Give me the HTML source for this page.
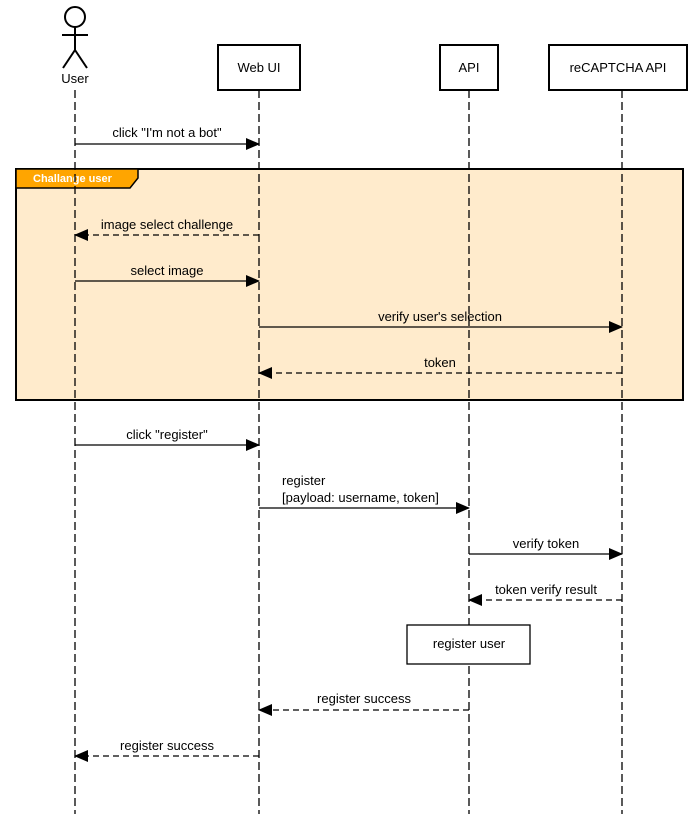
<!DOCTYPE html>
<html><head><style>body{margin:0;background:#fff}</style></head><body>
<svg width="700" height="814" xmlns="http://www.w3.org/2000/svg" font-family="Liberation Sans, Arial, sans-serif" font-size="13">
<defs><marker id="a" markerWidth="14" markerHeight="12" refX="13" refY="6" orient="auto" markerUnits="userSpaceOnUse"><path d="M0,0L14,6L0,12z" fill="#000"/></marker></defs>
<rect x="16" y="169" width="667" height="231" fill="#ffebcc" stroke="#000" stroke-width="2"/>
<path d="M16,169H138V178L130,188H16z" fill="#ffa500" stroke="#000" stroke-width="1.5"/>
<text x="33" y="182" fill="#fff" font-weight="bold" font-size="11">Challange user</text>
<g stroke="#000" stroke-width="1.3" stroke-dasharray="8,4" fill="none">
<line x1="75" y1="90" x2="75" y2="814"/><line x1="259" y1="90" x2="259" y2="814"/>
<line x1="469" y1="90" x2="469" y2="814"/><line x1="622" y1="90" x2="622" y2="814"/></g>
<g fill="none" stroke="#000" stroke-width="2"><circle cx="75" cy="17" r="10"/><path d="M75,27V50M62,35H88M75,50L63,68M75,50L87,68"/></g>
<text x="75" y="83" text-anchor="middle">User</text>
<g fill="#fff" stroke="#000" stroke-width="2"><rect x="218" y="45" width="82" height="45"/><rect x="440" y="45" width="58" height="45"/><rect x="549" y="45" width="138" height="45"/></g>
<text x="259" y="72" text-anchor="middle">Web UI</text><text x="469" y="72" text-anchor="middle">API</text><text x="618" y="72" text-anchor="middle">reCAPTCHA API</text>
<g stroke="#000" stroke-width="1.3" marker-end="url(#a)">
<line x1="75" y1="144" x2="259" y2="144"/>
<line x1="259" y1="235" x2="75" y2="235" stroke-dasharray="6,4"/>
<line x1="75" y1="281" x2="259" y2="281"/>
<line x1="259" y1="327" x2="622" y2="327"/>
<line x1="622" y1="373" x2="259" y2="373" stroke-dasharray="6,4"/>
<line x1="75" y1="445" x2="259" y2="445"/>
<line x1="259" y1="508" x2="469" y2="508"/>
<line x1="469" y1="554" x2="622" y2="554"/>
<line x1="622" y1="600" x2="469" y2="600" stroke-dasharray="6,4"/>
<line x1="469" y1="710" x2="259" y2="710" stroke-dasharray="6,4"/>
<line x1="259" y1="756" x2="75" y2="756" stroke-dasharray="6,4"/>
</g>
<g text-anchor="middle">
<text x="167" y="137">click "I'm not a bot"</text>
<text x="167" y="229">image select challenge</text>
<text x="167" y="275">select image</text>
<text x="440" y="321">verify user's selection</text>
<text x="440" y="367">token</text>
<text x="167" y="439">click "register"</text>
<text x="546" y="548">verify token</text>
<text x="546" y="594">token verify result</text>
<text x="364" y="703">register success</text>
<text x="167" y="750">register success</text>
</g>
<text x="282" y="485">register</text><text x="282" y="502">[payload: username, token]</text>
<rect x="407" y="625" width="123" height="39" fill="#fff" stroke="#000" stroke-width="1.3"/>
<text x="469" y="648" text-anchor="middle">register user</text>
</svg>
</body></html>
